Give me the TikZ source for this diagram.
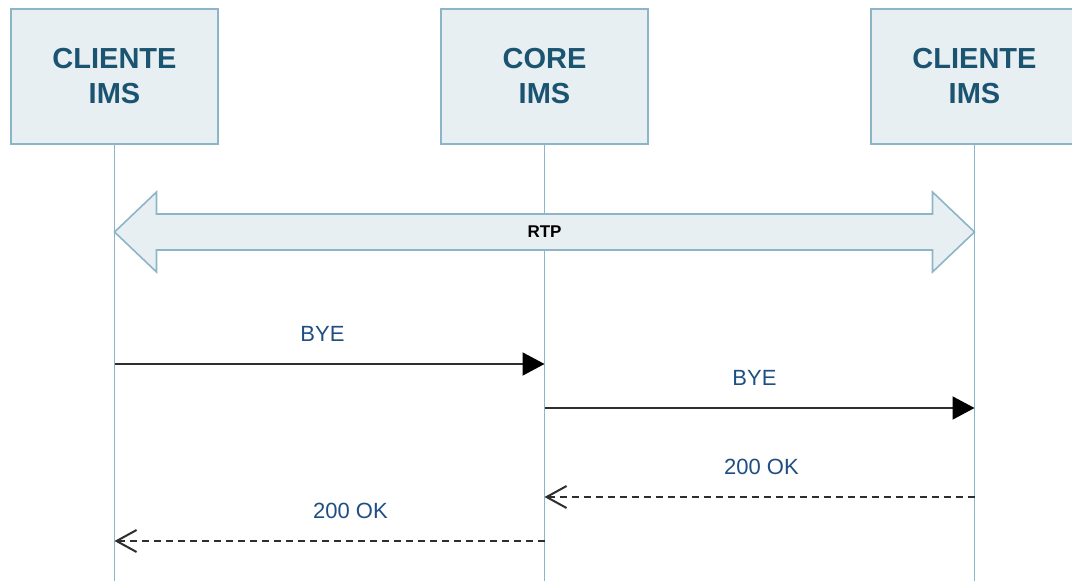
\documentclass[tikz,border=0pt]{standalone}
\usepackage{fontspec}
\setmainfont{Liberation Sans}
\usetikzlibrary{positioning,calc,arrows.meta}

\definecolor{boxfill}{HTML}{E8EFF3}
\definecolor{boxline}{HTML}{8DB5C8}
\definecolor{titletext}{HTML}{1B5471}
\definecolor{msgtext}{HTML}{1F4E82}
\definecolor{msgline}{HTML}{2E2E2E}

\begin{document}
\begin{tikzpicture}[x=1pt,y=-1pt,
            actorbox/.style={rectangle, draw=boxline, fill=boxfill, line width=2pt, outer sep=0pt,
                minimum width=207pt, minimum height=135pt, align=center, text=titletext,
                font=\fontsize{29}{35}\selectfont\bfseries},
            lifeline/.style={draw=boxline, line width=1.8pt},
            rtpband/.style={draw=boxline, fill=boxfill, line width=1.6pt, line join=miter},
            request/.style={draw=msgline, line width=2pt, -{Triangle[length=22pt,width=23pt,fill=black,color=black]}},
            reply/.style={draw=msgline, line width=2pt, dash pattern=on 7pt off 5pt,
                -{Straight Barb[length=20pt,width=22pt,line width=2pt]}},
            msglabel/.style={text=msgtext, font=\fontsize{22}{26}\selectfont, yshift=30pt},
            ]
            \clip (0,0) rectangle (1072,581);

            %Nodes
            \node[actorbox]      (cliA)                       at (114.5,76.5) {CLIENTE\\IMS};
            \node[actorbox]      (core)  [right=223pt of cliA]                {CORE\\IMS};
            \node[actorbox]      (cliB)  [right=223pt of core]                {CLIENTE\\IMS};

            \coordinate (bottom) at (0,581);
            \coordinate (rtp)    at (0,232);
            \coordinate (m1)     at (0,364);
            \coordinate (m2)     at (0,408);
            \coordinate (m3)     at (0,497);
            \coordinate (m4)     at (0,541);

            %Lifelines
            \draw[lifeline] (cliA.south) -- (cliA |- bottom);
            \draw[lifeline] (core.south) -- (core |- bottom);
            \draw[lifeline] (cliB.south) -- (cliB |- bottom);

            %RTP stream
            \draw[rtpband] (cliA |- rtp) -- ++(42,-40) -- ++(0,22)
                -- ($(cliB |- rtp)+(-42,-18)$) -- ++(0,-22) -- (cliB |- rtp)
                -- ++(-42,40) -- ++(0,-22) -- ($(cliA |- rtp)+(42,18)$) -- ++(0,22) -- cycle;
            \node[font=\fontsize{17}{20}\selectfont\bfseries] (rtplabel) at (core |- rtp) {RTP};

            %Lines
            \draw[request] (cliA |- m1) -- (core |- m1) node[msglabel, midway, xshift=-7pt] {BYE};
            \draw[request] (core |- m2) -- (cliB |- m2) node[msglabel, midway, xshift=-5pt] {BYE};
            \draw[reply]   (cliB |- m3) -- (core |- m3) node[msglabel, midway, xshift=2pt] {200 OK};
            \draw[reply]   (core |- m4) -- (cliA |- m4) node[msglabel, midway, xshift=21pt] {200 OK};

        \end{tikzpicture}
\end{document}
